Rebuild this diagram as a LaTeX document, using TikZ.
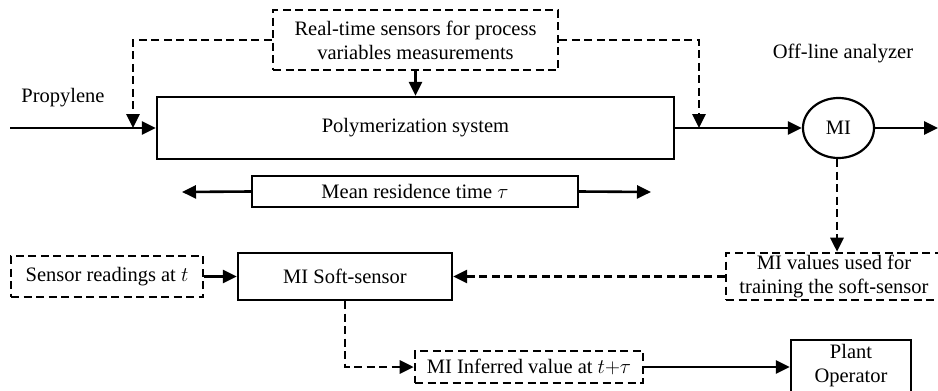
\documentclass[tikz,border=0pt]{standalone}
\usepackage{fontspec}
\setmainfont{Liberation Serif}
\usetikzlibrary{arrows.meta,shapes.geometric}
\begin{document}
\begin{tikzpicture}[x=1pt,y=-1pt,
  every node/.style={font=\fontsize{20.5}{24}\selectfont, inner sep=0pt, align=center},
  box/.style={draw, line width=2.2pt, rectangle},
  dbox/.style={draw, line width=2.6pt, rectangle, dash pattern=on 8pt off 4.5pt},
  con/.style={line width=2.6pt, -{Triangle[length=14pt,width=13pt]}},
  dcon/.style={line width=2.8pt, dash pattern=on 8pt off 4.5pt, -{Triangle[length=14pt,width=13pt]}},
  lbl/.style={}]
\useasboundingbox (0,0) rectangle (938,391);
\clip (0,0) rectangle (938,391);
\fill[white] (0,0) rectangle (938,391);

% nodes
\node[dbox, minimum width=285pt, minimum height=60pt] (sens) at (415.5,40) {Real-time sensors for process\\variables measurements};
\node[box, minimum width=517pt, minimum height=62pt] (poly) at (415.5,128) {Polymerization system};
\node[draw, ellipse, line width=2.2pt, minimum width=71pt, minimum height=60pt] (mi) at (838.5,128) {MI};
\node[lbl] (off) at (843,53) {Off-line analyzer};
\node[lbl] (prop) at (63,98) {Propylene};
\coordinate (in) at (10,128);
\coordinate (out) at (938,128);
\coordinate (jl) at (133,128);
\coordinate (jr) at (699,128);

\node[box, minimum width=326pt, minimum height=31pt] (mean) at (415,191.5) {Mean residence time $\tau$};
\coordinate (ml) at (182,192);
\coordinate (mr) at (651,192);

\node[dbox, minimum width=216pt, minimum height=47pt] (mival) at (834,276.5) {MI values used for\\training the soft-sensor};
\node[box, minimum width=214pt, minimum height=47pt] (soft) at (345,276.5) {MI Soft-sensor};
\node[dbox, minimum width=192pt, minimum height=41pt] (read) at (107,276.5) {Sensor readings at $t$};
\node[dbox, minimum width=228pt, minimum height=32pt] (inf) at (529,367) {MI Inferred value at $t{+}\tau$};
\node[box, minimum width=120pt, minimum height=64pt, anchor=north] (plant) at (851,339) {};
\node (planttxt) at (851,366) {Plant\\Operator};

% connectors
\draw[con] (in) -- (poly.west);
\draw[con] (poly.east) -- (mi.west);
\draw[con] (mi.east) -- (out);
\draw[con] (sens.south) -- (poly.north);
\draw[dcon] (sens.west |- 0,40) -| (jl);
\draw[dcon] (sens.east |- 0,40) -| (jr);
\draw[con] (mean.west) -- (ml);
\draw[con] (mean.east) -- (mr);
\draw[dcon] (mi.south -| 837,0) -- (mival.north -| 837,0);
\draw[dcon] (mival.west) -- (soft.east);
\draw[con] (read.east) -- (soft.west);
\draw[dcon] (soft.south) |- (inf.west);
\draw[con] (inf.east) -- (plant.west |- inf.east);
\end{tikzpicture}
\end{document}
